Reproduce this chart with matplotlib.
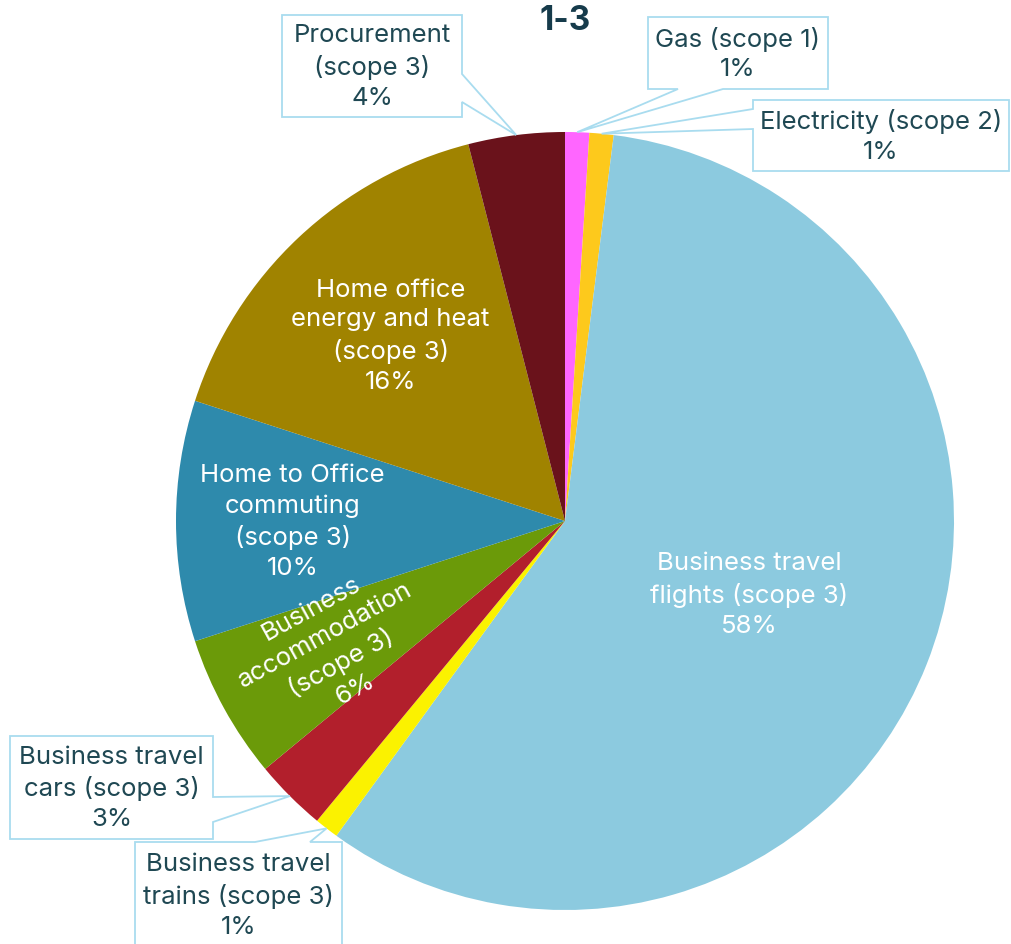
import numpy as np
import matplotlib
matplotlib.use("Agg")
import matplotlib.pyplot as plt
from matplotlib.patches import Polygon

plt.rcParams['font.family'] = ['Inter', 'DejaVu Sans']

# emissions share by source, clockwise from 12 o'clock
labels = ["Gas (scope 1)", "Electricity (scope 2)", "Business travel\nflights (scope 3)",
          "Business travel\ntrains (scope 3)", "Business travel\ncars (scope 3)",
          "Business\naccommodation\n(scope 3)", "Home to Office\ncommuting\n(scope 3)",
          "Home office\nenergy and heat\n(scope 3)", "Procurement\n(scope 3)"]
shares = [1, 1, 58, 1, 3, 6, 10, 16, 4]
colors = ["#ff66ff", "#fdc91c", "#8ccadf", "#fbf200", "#b21f2c",
          "#6b9a09", "#2e8aac", "#a08300", "#6a121b"]

W, H = 1012, 945
CX, CY, R = 565, 522, 389
FS = 18.5
LS = 1.38

fig = plt.figure(figsize=(W / 100, H / 100), dpi=100)
ax = fig.add_axes([0, 0, 1, 1])


def px(x, y):
    # pixel position -> data units (pie radius = 1)
    return (x - CX) / R, (CY - y) / R


wedges, _ = ax.pie(shares, colors=colors, startangle=90, counterclock=False,
                   radius=1, center=(0, 0), frame=True)
ax.set_xlim(-CX / R, (W - CX) / R)
ax.set_ylim(-(H - CY) / R, CY / R)
ax.set_aspect('equal')
ax.axis('off')


def mid_angle(i):
    w = wedges[i]
    return np.deg2rad((w.theta1 + w.theta2) / 2)


def label_text(i):
    return "{}\n{}%".format(labels[i], shares[i])


# labels inside the big slices
inside = {2: 0.51, 5: 0.68, 6: 0.70, 7: 0.655}
for i, r in inside.items():
    a = mid_angle(i)
    rot = 0
    if i == 5:
        rot = np.rad2deg(a) - 180
    ax.text(r * np.cos(a), r * np.sin(a), label_text(i), color="white",
            fontsize=FS, ha="center", va="center", rotation=rot,
            rotation_mode="anchor", linespacing=LS, zorder=4)

# callout boxes: (slice, box x0, y0, x1, y1, side, tail base)
callouts = [
    (8, 282, 16, 462, 118, "right", (75, 103)),
    (0, 648, 18, 828, 90, "bottom", (678, 723)),
    (1, 753, 101, 1009, 172, "left", (110, 130)),
    (4, 10, 737, 213, 840, "right", (798, 823)),
    (3, 135, 843, 342, 975, "top", (255, 310)),
]
edge = "#a9dcef"
txt = "#1f4853"
for i, x0, y0, x1, y1, side, (b0, b1) in callouts:
    a = mid_angle(i)
    tip = (np.cos(a), np.sin(a))
    if side == "right":
        pts = [px(x0, y0), px(x1, y0), px(x1, b0), tip, px(x1, b1), px(x1, y1), px(x0, y1)]
    elif side == "left":
        pts = [px(x0, y0), px(x1, y0), px(x1, y1), px(x0, y1), px(x0, b1), tip, px(x0, b0)]
    elif side == "bottom":
        pts = [px(x0, y0), px(x1, y0), px(x1, y1), px(b1, y1), tip, px(b0, y1), px(x0, y1)]
    else:
        pts = [px(x0, y0), px(b0, y0), tip, px(b1, y0), px(x1, y0), px(x1, y1), px(x0, y1)]
    ax.add_patch(Polygon(pts, closed=True, facecolor="white", edgecolor=edge,
                         linewidth=1.3, zorder=3, clip_on=False))
    ty = (y0 + y1) / 2 if side != "top" else y0 + 53
    tx, tyd = px((x0 + x1) / 2, ty)
    ax.text(tx, tyd, label_text(i), color=txt, fontsize=FS, ha="center",
            va="center", linespacing=LS, zorder=5)

ax.text(*px(CX, 21), "1-3", color="#163b4b", fontsize=24, fontweight="bold",
        ha="center", va="center")

fig.savefig("out.png", dpi=100, facecolor="white")
